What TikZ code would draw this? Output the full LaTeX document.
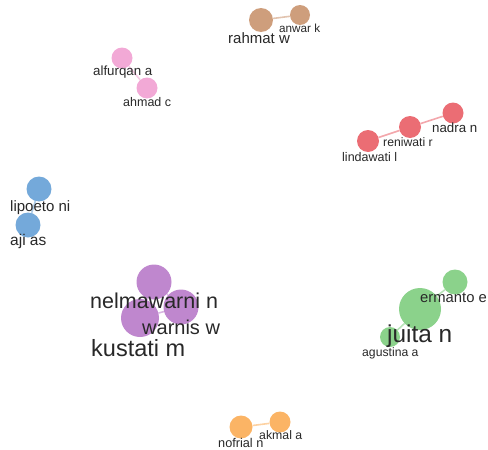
\documentclass[tikz,border=0pt]{standalone}
\usepackage{fontspec}
\setmainfont{Liberation Sans}
\definecolor{cbrown}{RGB}{190,125,80}
\definecolor{cpink}{RGB}{238,140,200}
\definecolor{cred}{RGB}{228,60,70}
\definecolor{cblue}{RGB}{70,140,205}
\definecolor{cpurple}{RGB}{170,95,190}
\definecolor{cgreen}{RGB}{100,195,100}
\definecolor{corange}{RGB}{250,155,50}
\definecolor{txt}{RGB}{40,40,40}
\tikzset{
  bub/.style={circle, inner sep=0pt, fill opacity=0.75, draw=none},
  lnk/.style={line width=1.6pt, opacity=0.45},
  lab/.style={text=txt, inner sep=0pt, anchor=base west},
  fs/.style={font=\fontsize{#1}{#1}\selectfont},
}
\begin{document}
\begin{tikzpicture}[x=1pt,y=-1pt]
\useasboundingbox (0,0) rectangle (488,450);
% brown
\node[bub, fill=cbrown, minimum size=24pt] (rah) at (261,20) {};
\node[bub, fill=cbrown, minimum size=20pt] (anw) at (300,15) {};
\draw[lnk, cbrown] (rah) -- (anw);
\node[lab, fs=15] (lrah) at (228,43) {rahmat w};
\node[lab, fs=11.7] (lanw) at (279,32) {anwar k};
% pink
\node[bub, fill=cpink, minimum size=21pt] (alf) at (122,58) {};
\node[bub, fill=cpink, minimum size=21pt] (ahm) at (147,88) {};
\draw[lnk, cpink] (alf) -- (ahm);
\node[lab, fs=13.3] (lalf) at (93,75) {alfurqan a};
\node[lab, fs=12.5] (lahm) at (123,106) {ahmad c};
% red
\node[bub, fill=cred, minimum size=21pt] (nad) at (453,113) {};
\node[bub, fill=cred, minimum size=22pt] (ren) at (410,127) {};
\node[bub, fill=cred, minimum size=22pt] (lin) at (368,141) {};
\draw[lnk, cred] (lin) -- (ren);
\draw[lnk, cred] (ren) -- (nad);
\node[lab, fs=13.3] (lnad) at (432,132) {nadra n};
\node[lab, fs=12.2] (lren) at (383,146) {reniwati r};
\node[lab, fs=12.5] (llin) at (342,161) {lindawati l};
% blue
\node[bub, fill=cblue, minimum size=25pt] (lip) at (39,189) {};
\node[bub, fill=cblue, minimum size=25pt] (aji) at (28,225) {};
\draw[lnk, cblue] (lip) -- (aji);
\node[lab, fs=15] (llip) at (10,211) {lipoeto ni};
\node[lab, fs=15.5] (laji) at (10,245) {aji as};
% purple
\node[bub, fill=cpurple, minimum size=35pt] (nel) at (154,282) {};
\node[bub, fill=cpurple, minimum size=35pt] (war) at (181,307) {};
\node[bub, fill=cpurple, minimum size=38pt] (kus) at (140,318) {};
\draw[lnk, cpurple] (nel) -- (war);
\draw[lnk, cpurple] (nel) -- (kus);
\draw[lnk, cpurple] (war) -- (kus);
\node[lab, fs=21.5] (lnel) at (90,308) {nelmawarni n};
\node[lab, fs=20] (lwar) at (142,334) {warnis w};
\node[lab, fs=23.5] (lkus) at (91,356) {kustati m};
% green
\node[bub, fill=cgreen, minimum size=25pt] (erm) at (455,282) {};
\node[bub, fill=cgreen, minimum size=42pt] (jui) at (420,309) {};
\node[bub, fill=cgreen, minimum size=20pt] (agu) at (390,337) {};
\draw[lnk, cgreen] (erm) -- (jui);
\draw[lnk, cgreen] (jui) -- (agu);
\node[lab, fs=14.8] (lerm) at (420,302) {ermanto e};
\node[lab, fs=24.4] (ljui) at (387,342) {juita n};
\node[lab, fs=12.2] (lagu) at (362,356) {agustina a};
% orange
\node[bub, fill=corange, minimum size=23pt] (nof) at (241,427) {};
\node[bub, fill=corange, minimum size=21pt] (akm) at (280,422) {};
\draw[lnk, corange] (nof) -- (akm);
\node[lab, fs=12.7] (lnof) at (218,447) {nofrial n};
\node[lab, fs=12.3] (lakm) at (259,439) {akmal a};
\end{tikzpicture}
\end{document}
